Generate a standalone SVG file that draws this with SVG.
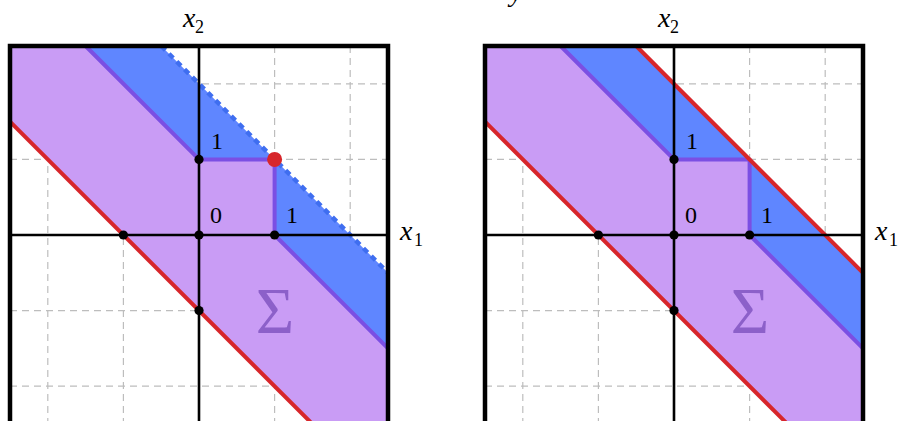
<svg xmlns="http://www.w3.org/2000/svg" width="904" height="421" viewBox="0 0 904 421">
<style>
.grid{stroke:#bdbdbd;stroke-width:1.2;stroke-dasharray:7 5;fill:none}
.purple{fill:#c99cf5;stroke:none}
.blue{fill:#5f86ff;stroke:none}
.stair{fill:none;stroke:#7b4fe3;stroke-width:4;stroke-linejoin:round}
.red{fill:none;stroke:#d7262b;stroke-width:4}
.dash{fill:none;stroke:#3f6ef0;stroke-width:4.5;stroke-dasharray:6 5}
.axis{stroke:#000;stroke-width:2.6;fill:none}
.box{fill:none;stroke:#000;stroke-width:4.5}
.dot{fill:#000}
</style>
<defs>
<g id="gridlines">
<path class="grid" d="M47.8,46V424M123.4,46V424M274.6,46V424M350.2,46V424M10,83.8H388M10,159.4H388M10,310.6H388M10,386.2H388"/>
</g>
</defs>
<text x="510" y="1" font-family="Liberation Serif, serif" font-style="italic" font-size="28" fill="#000">y</text>
<g id="left-panel">
<use href="#gridlines"/>
<polygon class="purple" points="10,46 85.6,46 199,159.4 274.6,159.4 274.6,235 388,348.4 388,424 312.4,424 10,121.6"/>
<polygon class="blue" points="85.6,46 161.2,46 388,272.8 388,348.4 274.6,235 274.6,159.4 199,159.4"/>
<g id="left-connectors">
<polyline class="stair" points="85.6,46 199,159.4 274.6,159.4 274.6,235 388,348.4"/>
<line class="red" x1="10" y1="121.6" x2="312.4" y2="424"/>
<line class="dash" x1="161.2" y1="46" x2="388" y2="272.8"/>
<path class="axis" d="M10,235H388M199,46V424"/>
</g>
<rect class="box" x="10" y="46" width="378" height="378"/>
<g id="left-dots">
<circle class="dot" cx="123.4" cy="235" r="4.6"/>
<circle class="dot" cx="199" cy="235" r="4.6"/>
<circle class="dot" cx="274.6" cy="235" r="4.6"/>
<circle class="dot" cx="199" cy="159.4" r="4.6"/>
<circle class="dot" cx="199" cy="310.6" r="4.6"/>
<circle cx="274.6" cy="159.4" r="7.5" fill="#d7262b"/>
</g>
<g font-family="Liberation Serif, serif" fill="#000">
<text x="211" y="149" font-size="24">1</text>
<text x="210" y="223" font-size="24">0</text>
<text x="286" y="223" font-size="24">1</text>
<text x="183" y="27" font-size="28" font-style="italic">x</text><text x="195" y="33" font-size="18">2</text>
<text x="400" y="240" font-size="28" font-style="italic">x</text><text x="414" y="246" font-size="18">1</text>
<text x="275" y="333" font-size="66" fill="#8c60c9" text-anchor="middle">Σ</text>
</g>
</g>
<g id="right-panel" transform="translate(475,0)">
<use href="#gridlines"/>
<polygon class="purple" points="10,46 85.6,46 199,159.4 274.6,159.4 274.6,235 388,348.4 388,424 312.4,424 10,121.6"/>
<polygon class="blue" points="85.6,46 161.2,46 388,272.8 388,348.4 274.6,235 274.6,159.4 199,159.4"/>
<g id="right-connectors">
<polyline class="stair" points="85.6,46 199,159.4 274.6,159.4 274.6,235 388,348.4"/>
<line class="red" x1="10" y1="121.6" x2="312.4" y2="424"/>
<line class="red" x1="161.2" y1="46" x2="388" y2="272.8"/>
<path class="axis" d="M10,235H388M199,46V424"/>
</g>
<rect class="box" x="10" y="46" width="378" height="378"/>
<g id="right-dots">
<circle class="dot" cx="123.4" cy="235" r="4.6"/>
<circle class="dot" cx="199" cy="235" r="4.6"/>
<circle class="dot" cx="274.6" cy="235" r="4.6"/>
<circle class="dot" cx="199" cy="159.4" r="4.6"/>
<circle class="dot" cx="199" cy="310.6" r="4.6"/>
</g>
<g font-family="Liberation Serif, serif" fill="#000">
<text x="211" y="149" font-size="24">1</text>
<text x="210" y="223" font-size="24">0</text>
<text x="286" y="223" font-size="24">1</text>
<text x="183" y="27" font-size="28" font-style="italic">x</text><text x="195" y="33" font-size="18">2</text>
<text x="400" y="240" font-size="28" font-style="italic">x</text><text x="414" y="246" font-size="18">1</text>
<text x="275" y="333" font-size="66" fill="#8c60c9" text-anchor="middle">Σ</text>
</g>
</g>
</svg>
